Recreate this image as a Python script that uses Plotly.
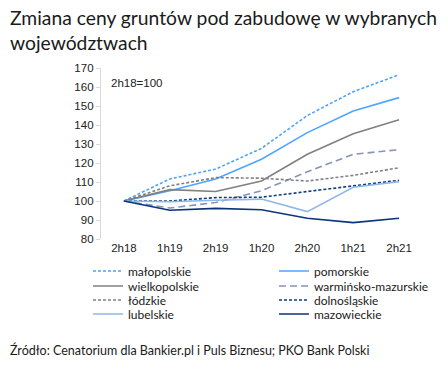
import plotly.graph_objects as go

categories = ["2h18", "1h19", "2h19", "1h20", "2h20", "1h21", "2h21"]

series_names = ["małopolskie", "pomorskie", "wielkopolskie", "warmińsko-mazurskie",
                "łódzkie", "dolnośląskie", "lubelskie", "mazowieckie"]

malopolskie = [100, 111.6, 116.8, 127.7, 145.0, 157.5, 166.5]
pomorskie = [100, 105.4, 111.6, 122.0, 136.0, 147.4, 154.4]
wielkopolskie = [100, 106.0, 105.0, 110.5, 124.6, 135.4, 142.8]
warminsko_mazurskie = [100, 96.3, 99.2, 105.4, 115.4, 124.6, 127.0]
lodzkie = [100, 108.0, 112.3, 112.0, 110.5, 113.5, 117.5]
dolnoslaskie = [100, 100.0, 101.8, 102.0, 105.0, 108.0, 110.9]
lubelskie = [100, 99.6, 100.4, 101.0, 94.4, 107.2, 110.2]
mazowieckie = [100, 95.1, 96.1, 95.4, 90.9, 88.6, 90.9]

values = [malopolskie, pomorskie, wielkopolskie, warminsko_mazurskie,
          lodzkie, dolnoslaskie, lubelskie, mazowieckie]

styles = [
    dict(color="#4da3f7", dash="3px,2px", width=1.6),
    dict(color="#4da6ff", dash="solid", width=1.6),
    dict(color="#808080", dash="solid", width=1.6),
    dict(color="#8793b8", dash="7px,4px", width=1.6),
    dict(color="#808080", dash="3px,2px", width=1.6),
    dict(color="#0b3c82", dash="3px,2px", width=1.6),
    dict(color="#8db8e8", dash="solid", width=1.6),
    dict(color="#0a357a", dash="solid", width=1.6),
]

FONT = "Lato"
W, H = 448, 365
L, R, T, B = 101, 26, 68, 126
PW, PH = W - L - R, H - T - B

legend_ids = ["legend", "legend", "legend2", "legend2", "legend3", "legend3", "legend4", "legend4"]
legend_rows = [271, 286, 300, 314]

fig = go.Figure()
for name, vals, st, lg in zip(series_names, values, styles, legend_ids):
    fig.add_trace(go.Scatter(x=categories, y=vals, name=name, mode="lines",
                             line=st, legend=lg, hoverinfo="x+y+name"))

ymin, ymax = 80, 170


def legend_row(ypix):
    return dict(orientation="h", x=(88 - L) / PW, xanchor="left",
                y=-(ypix - (T + PH)) / PH, yanchor="middle",
                font=dict(family=FONT, size=12, color="#1a1a1a"),
                entrywidth=141, entrywidthmode="pixels", itemwidth=30,
                bgcolor="rgba(0,0,0,0)")


fig.update_layout(
    width=W, height=H,
    margin=dict(l=L, r=R, t=T, b=B, autoexpand=False),
    paper_bgcolor="white", plot_bgcolor="white",
    font=dict(family="Liberation Sans, Arial", size=11, color="#333333"),
    xaxis=dict(type="category", showline=False, showgrid=False, ticks="",
               tickfont=dict(family="Liberation Sans, Arial", size=11.5, color="#222"),
               range=[-0.5, 6.5], fixedrange=True),
    xaxis2=dict(overlaying="x", anchor="free", position=(100 - ymin) / (ymax - ymin),
                type="linear", range=[-0.5, 6.5], showline=True, linecolor="#d9d9d9",
                linewidth=1.3, ticks="outside", tickcolor="#d9d9d9", ticklen=5,
                tickvals=[0.5, 1.5, 2.5, 3.5, 4.5, 5.5, 6.5], showticklabels=False,
                showgrid=False, zeroline=False, side="bottom"),
    yaxis=dict(range=[ymin, ymax], dtick=10, showgrid=False, showline=True,
               linecolor="#d9d9d9", linewidth=1.3, ticks="outside", ticklen=4,
               tickcolor="#d9d9d9", zeroline=False,
               tickfont=dict(family="Liberation Sans, Arial", size=11.5, color="#222")),
    legend=legend_row(legend_rows[0]),
    legend2=legend_row(legend_rows[1]),
    legend3=legend_row(legend_rows[2]),
    legend4=legend_row(legend_rows[3]),
    showlegend=True,
)

fig.add_annotation(text="Zmiana ceny gruntów pod zabudowę w wybranych<br>województwach",
                   xref="paper", yref="paper", x=-(L - 8) / PW, y=1 + (T - 4) / PH,
                   xanchor="left", yanchor="top", align="left", showarrow=False,
                   font=dict(family=FONT, size=19.3, color="#1a1a1a"))
fig.add_annotation(text="2h18=100", xref="paper", yref="paper", x=8 / PW, y=1 - 7 / PH,
                   xanchor="left", yanchor="top", showarrow=False,
                   font=dict(family="Liberation Sans, Arial", size=11.5, color="#222"))
fig.add_annotation(text="Źródło: Cenatorium dla Bankier.pl i Puls Biznesu; PKO Bank Polski",
                   xref="paper", yref="paper", x=-(L - 8) / PW, y=-(350 - (T + PH)) / PH,
                   xanchor="left", yanchor="middle", showarrow=False,
                   font=dict(family=FONT, size=12.5, color="#1a1a1a"))

fig.write_html("out.html", config={"displayModeBar": False},
               post_script="document.body.style.margin='0';")
